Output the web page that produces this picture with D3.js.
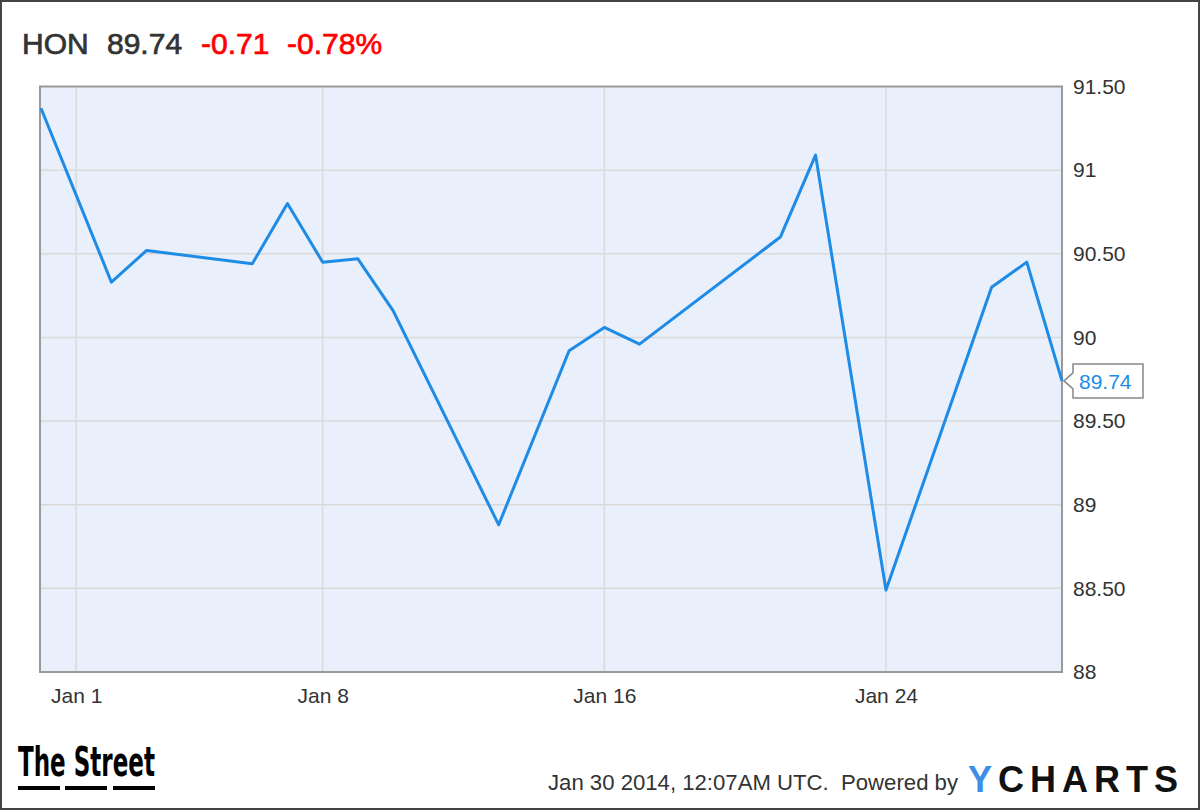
<!DOCTYPE html>
<html lang="en">
<head>
    <meta charset="UTF-8">
    <title>HON</title>
    <script src="https://d3js.org/d3.v7.min.js"></script>
    <style>
        body { margin: 0; background: #fff; }
        text { font-family: "Liberation Sans", Arial, sans-serif; }
        .grid line { stroke: #d9d9d9; stroke-width: 1.5px; }
        .axis text { fill: #333; }
    </style>
</head>
<body>
<svg width="1200" height="810"></svg>
<script>
    // closing prices
    var dates = ["2013-12-31", "2014-01-02", "2014-01-03", "2014-01-06", "2014-01-07",
                 "2014-01-08", "2014-01-09", "2014-01-10", "2014-01-13", "2014-01-15",
                 "2014-01-16", "2014-01-17", "2014-01-21", "2014-01-22", "2014-01-24",
                 "2014-01-27", "2014-01-28", "2014-01-29"];
    var prices = [91.37, 90.33, 90.52, 90.44, 90.80,
                  90.45, 90.47, 90.16, 88.88, 89.92,
                  90.06, 89.96, 90.60, 91.09, 88.49,
                  90.30, 90.45, 89.74];

    var xTicks = ["2014-01-01", "2014-01-08", "2014-01-16", "2014-01-24"];
    var xTickLabels = ["Jan 1", "Jan 8", "Jan 16", "Jan 24"];
    var yTicks = [88, 88.5, 89, 89.5, 90, 90.5, 91, 91.5];
    var yTickLabels = ["88", "88.50", "89", "89.50", "90", "90.50", "91", "91.50"];

    var ticker = "HON", lastPrice = "89.74", change = "-0.71", changePct = "-0.78%";

    var parse = d3.utcParse("%Y-%m-%d");
    var data = dates.map(function(d, i) { return {date: parse(d), value: prices[i]}; });

    var svg = d3.select("svg");
    var plotLeft = 40, plotRight = 1062, plotTop = 86.5, plotBottom = 672;

    var x = d3.scaleUtc()
        .domain([parse("2013-12-31"), parse("2014-01-29")])
        .range([plotLeft + 1, plotRight]);

    var y = d3.scaleLinear()
        .domain([88, 91.5])
        .range([plotBottom, plotTop]);

    // outer frame
    svg.append("rect")
        .attr("x", 1).attr("y", 1).attr("width", 1198).attr("height", 808)
        .style("fill", "#fff").style("stroke", "#444").style("stroke-width", 2);

    // header
    var head = svg.append("text").attr("x", 22).attr("y", 54)
        .style("font-size", "30px").style("stroke-width", 0.7);
    head.append("tspan").attr("fill", "#333").attr("stroke", "#333").text(ticker);
    head.append("tspan").attr("x", 107).attr("fill", "#333").attr("stroke", "#333").text(lastPrice);
    head.append("tspan").attr("x", 201).attr("fill", "#f00").attr("stroke", "#f00").text(change);
    head.append("tspan").attr("x", 287).attr("fill", "#f00").attr("stroke", "#f00").text(changePct);

    // plot background
    svg.append("rect")
        .attr("x", plotLeft).attr("y", plotTop)
        .attr("width", plotRight - plotLeft).attr("height", plotBottom - plotTop)
        .style("fill", "#e9effb");

    var grid = svg.append("g").attr("class", "grid");
    grid.selectAll(".h")
        .data(yTicks.slice(1, -1))
        .enter().append("line")
        .attr("x1", plotLeft).attr("x2", plotRight)
        .attr("y1", function(d) { return y(d); })
        .attr("y2", function(d) { return y(d); });
    grid.selectAll(".v")
        .data(xTicks)
        .enter().append("line")
        .attr("y1", plotTop).attr("y2", plotBottom)
        .attr("x1", function(d) { return x(parse(d)); })
        .attr("x2", function(d) { return x(parse(d)); });

    svg.append("rect")
        .attr("x", plotLeft).attr("y", plotTop)
        .attr("width", plotRight - plotLeft).attr("height", plotBottom - plotTop)
        .style("fill", "none").style("stroke", "#999").style("stroke-width", 2);

    // price line
    var line = d3.line()
        .x(function(d) { return x(d.date); })
        .y(function(d) { return y(d.value); });

    svg.append("path")
        .datum(data)
        .attr("d", line)
        .style("fill", "none")
        .style("stroke", "#1e8ce6")
        .style("stroke-width", 3)
        .style("stroke-linejoin", "round");

    // axes
    var yAxis = d3.axisRight(y)
        .tickValues(yTicks)
        .tickSize(0)
        .tickPadding(11)
        .tickFormat(function(d, i) { return yTickLabels[i]; });

    svg.append("g")
        .attr("class", "axis")
        .attr("transform", "translate(" + plotRight + ",0)")
        .call(yAxis)
        .call(function(g) { g.select(".domain").remove(); })
        .selectAll("text")
        .style("font-size", "21px")
        .style("font-family", "'Liberation Sans', Arial, sans-serif");

    var xAxis = d3.axisBottom(x)
        .tickValues(xTicks.map(parse))
        .tickSize(0)
        .tickPadding(16)
        .tickFormat(function(d, i) { return xTickLabels[i]; });

    svg.append("g")
        .attr("class", "axis")
        .attr("transform", "translate(0," + plotBottom + ")")
        .call(xAxis)
        .call(function(g) { g.select(".domain").remove(); })
        .selectAll("text")
        .style("font-size", "21px")
        .style("font-family", "'Liberation Sans', Arial, sans-serif");

    // last value tag
    var last = data[data.length - 1];
    var ty = y(last.value), tx = x(last.date);
    svg.append("path")
        .attr("d", "M" + (tx + 2) + "," + ty +
                   "L" + (tx + 11) + "," + (ty - 8) +
                   "L" + (tx + 11) + "," + (ty - 17) +
                   "L" + (tx + 81) + "," + (ty - 17) +
                   "L" + (tx + 81) + "," + (ty + 17) +
                   "L" + (tx + 11) + "," + (ty + 17) +
                   "L" + (tx + 11) + "," + (ty + 8) + "Z")
        .style("fill", "#fff").style("stroke", "#888").style("stroke-width", 1.5);
    svg.append("text")
        .attr("x", tx + 17).attr("y", ty + 8)
        .style("font-size", "21px").style("fill", "#1e8ce6")
        .text(lastPrice);

    // footer
    svg.append("text")
        .attr("x", 18).attr("y", 776)
        .attr("textLength", 137).attr("lengthAdjust", "spacingAndGlyphs")
        .style("font-family", "'Liberation Sans Narrow', 'DejaVu Sans Condensed', sans-serif")
        .style("font-weight", "bold").style("font-size", "41px").style("fill", "#000")
        .text("The Street");
    [[18, 60], [65, 107], [113, 155]].forEach(function(s) {
        svg.append("line")
            .attr("x1", s[0]).attr("x2", s[1]).attr("y1", 788).attr("y2", 788)
            .style("stroke", "#000").style("stroke-width", 4);
    });

    svg.append("text")
        .attr("x", 548).attr("y", 790)
        .attr("textLength", 410).attr("lengthAdjust", "spacingAndGlyphs")
        .style("font-size", "22px").style("fill", "#333").style("white-space", "pre")
        .text("Jan 30 2014, 12:07AM UTC.  Powered by");

    var yc = svg.append("text")
        .attr("x", 968).attr("y", 792)
        .attr("textLength", 210).attr("lengthAdjust", "spacing")
        .style("font-size", "36px").style("font-weight", "bold");
    yc.append("tspan").style("fill", "#3d8ee8").text("Y");
    yc.append("tspan").style("fill", "#111").text("CHARTS");
</script>
</body>
</html>
